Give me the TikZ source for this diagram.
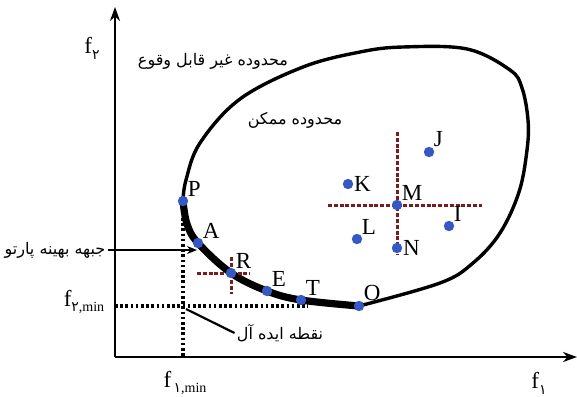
\documentclass[tikz,border=0pt]{standalone}
\usepackage{fontspec}
\setmainfont{Liberation Serif}
\newfontfamily\persfont[Script=Arabic]{DejaVu Sans}
\TeXXeTstate=1
\usetikzlibrary{arrows.meta}
\definecolor{dotblue}{RGB}{52,88,196}
\definecolor{crossred}{RGB}{122,28,28}
\newcommand{\fa}[1]{{\persfont\beginR #1\endR}}
\newcommand{\pd}[1]{{\persfont #1}}
\newcommand{\fsb}[1]{f\raisebox{-0.55ex}{\fontsize{7}{8}\selectfont #1}}

\begin{document}
\begin{tikzpicture}[x=0.5pt,y=-0.5pt,>=Stealth]
  \tikzset{
    axis/.style={line width=1.4pt,-{Stealth[length=7pt,width=5pt]}},
    dot/.style={circle,fill=dotblue,inner sep=0pt,minimum size=5.2pt},
    lbl/.style={inner sep=1pt,font=\fontsize{11.5}{14}\selectfont},
    cross/.style={crossred,line width=1.5pt,dash pattern=on 2pt off 0.9pt},
    guide/.style={line width=1.6pt,dash pattern=on 1.3pt off 1.3pt},
    fatxt/.style={inner sep=1pt,font=\fontsize{8}{9.5}\selectfont}
  }
  \useasboundingbox (0,0) rectangle (577,396);
  % axes
  \coordinate (O0) at (115,357);
  \coordinate (ytip) at (115,7);
  \coordinate (xtip) at (577,357);
  \draw[axis] (O0) -- (ytip);
  \draw[axis] (O0) -- (xtip);
  \node[lbl] (f2) at (92,48) {\fsb{\pd{۲}}};
  \node[lbl] (f1) at (539,383) {\fsb{\pd{۱}}};
  \node[lbl] (f1min) at (185,383) {\fsb{\,\pd{۱},min}};
  \node[lbl] (f2min) at (84,302) {\fsb{\pd{۲},min}};

  % points of the region
  \coordinate (P) at (183,201);
  \coordinate (A) at (198,243);
  \coordinate (R) at (231,273);
  \coordinate (E) at (267,291);
  \coordinate (T) at (301,300);
  \coordinate (O) at (359,306);
  \coordinate (K) at (348,184);
  \coordinate (J) at (429,152);
  \coordinate (M) at (397,205);
  \coordinate (L) at (357,239);
  \coordinate (N) at (397,248);
  \coordinate (I) at (449,226);
  \coordinate (ideal) at (183,306);

  % ideal point guides
  \draw[guide] (183,218) -- (183,357);
  \draw[guide] (O0 |- ideal) -- (308,306);

  % feasible region
  \draw[line width=1.7pt] plot[smooth,tension=0.6] coordinates {(O) (440,283) (473,263) (500,233)
    (519,192) (527,150) (528,120) (522,88) (510,70) (467,49) (403,47) (360,52) (303,67)
    (240,99) (200,143) (186,180) (P)};
  \draw[line width=3.6pt] plot[smooth,tension=0.6] coordinates {(P) (187,224) (A) (R) (E) (T) (O)};

  % cross hairs
  \draw[cross] (328,205) -- (482,205);
  \draw[cross] (M |- 0,132) -- (M |- 0,255);
  \draw[cross] (197,273) -- (250,273);
  \draw[cross] (R |- 0,257) -- (R |- 0,294);

  % dots
  \foreach \p/\pos in {P/above right,A/above right,R/above right,E/above right,T/above right,
      O/above right,K/right,J/above right,M/above right,L/above right,N/right,I/above right}
    \node[dot,label={[lbl,label distance=-1pt]\pos:\p}] (d\p) at (\p) {};

  % texts
  \node[fatxt] (infeas) at (213,61) {\fa{محدوده غیر قابل وقوع}};
  \node[fatxt] (feas) at (295,120) {\fa{محدوده ممکن}};
  \node[fatxt] (front) at (55,250) {\fa{جبهه بهینه پارتو}};
  \node[fatxt] (idealtxt) at (280,333) {\fa{نقطه ایده آل}};
  \coordinate (frontend) at (197,250);
  \draw[line width=1.1pt,-{Stealth[length=5pt,width=4pt]}] (front.east) -- (frontend);
  \draw[line width=1.1pt] (idealtxt.west) -- ([shift={(3,3)}]ideal);
\end{tikzpicture}
\end{document}
